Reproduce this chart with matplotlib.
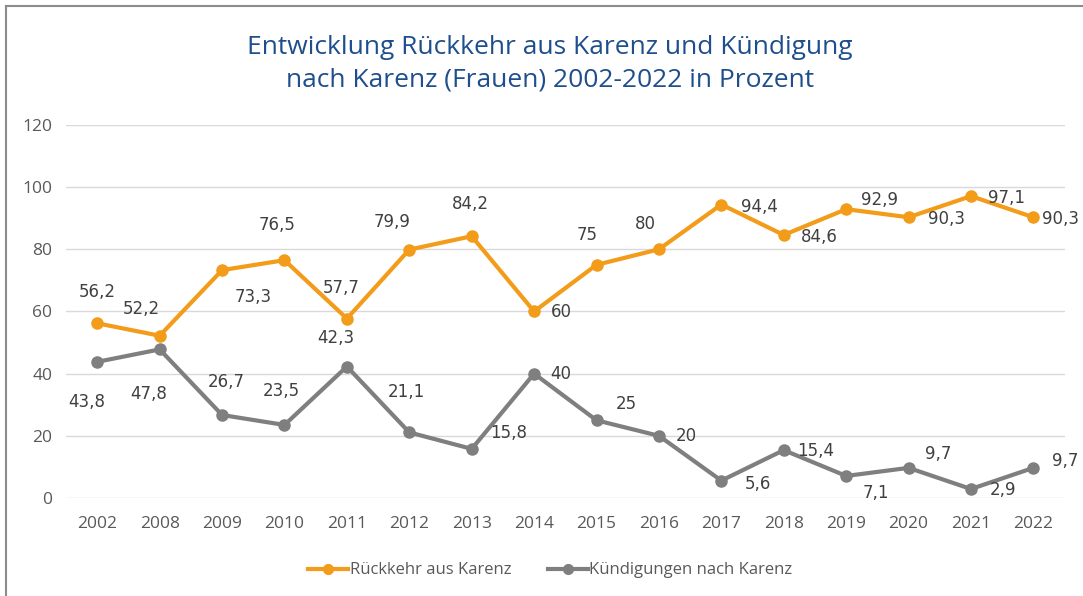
import matplotlib
matplotlib.use('Agg')
import matplotlib.pyplot as plt
from matplotlib.lines import Line2D

# data
years = ['2002', '2008', '2009', '2010', '2011', '2012', '2013', '2014',
         '2015', '2016', '2017', '2018', '2019', '2020', '2021', '2022']
rueckkehr = [56.2, 52.2, 73.3, 76.5, 57.7, 79.9, 84.2, 60,
             75, 80, 94.4, 84.6, 92.9, 90.3, 97.1, 90.3]
kuendigung = [43.8, 47.8, 26.7, 23.5, 42.3, 21.1, 15.8, 40,
              25, 20, 5.6, 15.4, 7.1, 9.7, 2.9, 9.7]

# label offsets in pixels (dx, dy up), like the Excel placement
off_r = [(0, 31), (-18, 27), (31, -27), (-7, 35), (-6, 31), (-17, 28), (-1, 32), (27, -1),
         (-9, 30), (-14, 25), (38, -2), (36, -2), (33, 9), (38, -2), (36, -2), (27, -2)]
off_k = [(-11, -40), (-11, -45), (4, 33), (-3, 34), (-11, 29), (-3, 40), (37, 16), (27, 0),
         (30, 16), (27, 0), (37, -3), (32, -1), (30, -17), (30, 14), (32, -1), (32, 7)]

orange = '#F39C1A'
grey = '#7F7F7F'
txt = '#404040'

fig = plt.figure(figsize=(10.83, 5.96), dpi=100)
ax = fig.add_axes([0.061, 0.1644, 0.922, 0.626])

x = list(range(len(years)))
ax.plot(x, rueckkehr, color=orange, lw=3, marker='o', ms=8, zorder=3)
ax.plot(x, kuendigung, color=grey, lw=3, marker='o', ms=8, zorder=3)

def fmt(v):
    return f'{v:g}'.replace('.', ',')

for i in x:
    ax.annotate(fmt(rueckkehr[i]), (i, rueckkehr[i]), xytext=off_r[i],
                textcoords='offset pixels', ha='center', va='center',
                fontsize=12, color=txt, family='DejaVu Sans', annotation_clip=False)
    ax.annotate(fmt(kuendigung[i]), (i, kuendigung[i]), xytext=off_k[i],
                textcoords='offset pixels', ha='center', va='center',
                fontsize=12, color=txt, family='DejaVu Sans', annotation_clip=False)

ax.set_xlim(-0.5, len(years) - 0.5)
ax.set_ylim(0, 120)
ax.set_yticks(range(0, 121, 20))
ax.set_xticks(x)
ax.set_xticklabels(years)
for s in ax.spines.values():
    s.set_visible(False)
ax.grid(axis='y', color='#D9D9D9', lw=1)
ax.set_axisbelow(True)
ax.tick_params(length=0, labelsize=12.5, labelcolor='#595959')
ax.tick_params(axis='x', pad=13)
ax.tick_params(axis='y', pad=10)
for lab in ax.get_xticklabels() + ax.get_yticklabels():
    lab.set_family('Open Sans')

fig.text(0.508, 0.893, 'Entwicklung Rückkehr aus Karenz und Kündigung\nnach Karenz (Frauen) 2002-2022 in Prozent',
         ha='center', va='center', fontsize=19, color='#1F4E8C',
         family='Open Sans', linespacing=1.38)

handles = [Line2D([], [], color=orange, lw=3, marker='o', ms=7),
           Line2D([], [], color=grey, lw=3, marker='o', ms=7)]
fig.legend(handles, ['Rückkehr aus Karenz', 'Kündigungen nach Karenz'],
           loc='center', bbox_to_anchor=(0.508, 0.043), ncol=2, frameon=False,
           prop={'family': 'Open Sans', 'size': 12}, labelcolor='#595959',
           handlelength=2.4, handletextpad=0.1, columnspacing=2.2)

# border on the left and top, as in the cropped screenshot
fig.add_artist(Line2D([6 / 1083, 6 / 1083], [0, 1 - 6 / 596], color='#8C8C8C', lw=1.5,
                      transform=fig.transFigure))
fig.add_artist(Line2D([6 / 1083, 1], [1 - 6 / 596, 1 - 6 / 596], color='#8C8C8C', lw=1.5,
                      transform=fig.transFigure))

fig.savefig('out.png', dpi=100)
